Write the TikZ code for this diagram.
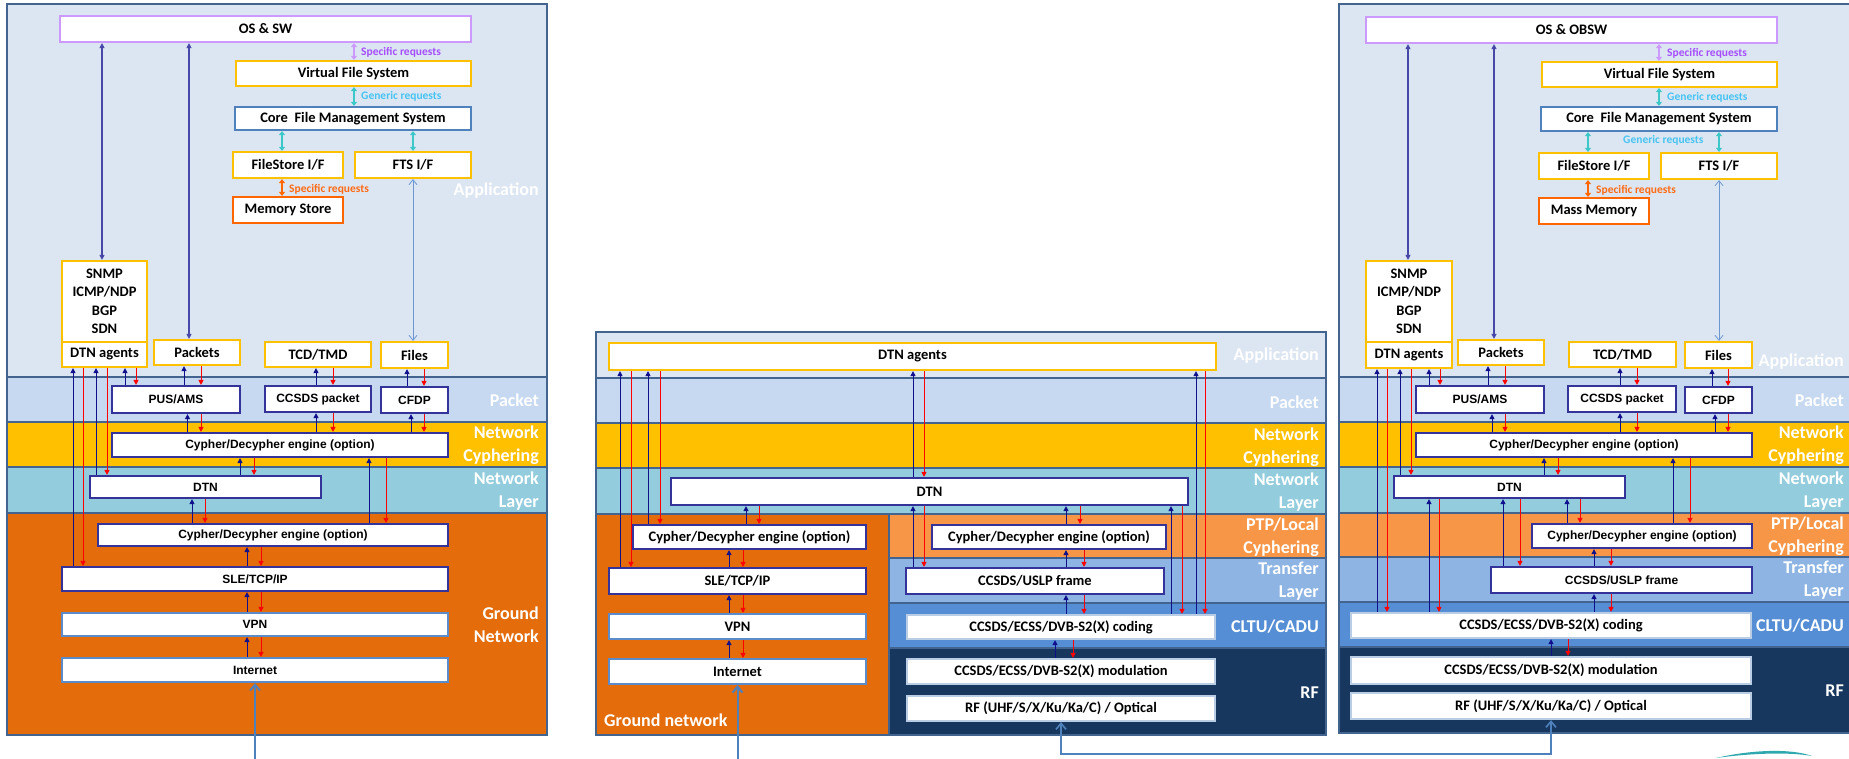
\documentclass[tikz,border=0pt]{standalone}
\usepackage{fontspec}
\setmainfont{Carlito}
\newfontfamily\arialf{Liberation Sans}
\usetikzlibrary{arrows.meta}

% layer fills
\definecolor{appbg}{HTML}{DCE6F2}
\definecolor{pktbg}{HTML}{C6D9F1}
\definecolor{ncbg}{HTML}{FFC000}
\definecolor{nlbg}{HTML}{93CDDD}
\definecolor{gnbg}{HTML}{E46C0A}
\definecolor{ptpbg}{HTML}{F79646}
\definecolor{tlbg}{HTML}{8EB4E3}
\definecolor{cltubg}{HTML}{558ED5}
\definecolor{rfbg}{HTML}{17375E}
\definecolor{bandline}{HTML}{42648E}
% box borders
\definecolor{yelb}{HTML}{FFC000}
\definecolor{purb}{HTML}{CC99FF}
\definecolor{blub}{HTML}{4F81BD}
\definecolor{orab}{HTML}{FF6600}
\definecolor{navb}{HTML}{333399}
\definecolor{ligb}{HTML}{5B8BC9}
\definecolor{codb}{HTML}{B9CDE5}
% connectors and request labels
\definecolor{arrnavy}{HTML}{10108C}
\definecolor{arrred}{HTML}{FF0000}
\definecolor{osc}{HTML}{4848A8}
\definecolor{ftsc}{HTML}{6D97D0}
\definecolor{inpc}{HTML}{4F81BD}
\definecolor{purpa}{HTML}{CC99FF}
\definecolor{purpt}{HTML}{A64DFF}
\definecolor{cyana}{HTML}{3CC8C8}
\definecolor{cyant}{HTML}{45C4F2}
\definecolor{orat}{HTML}{FF6A13}
\definecolor{swoosh}{HTML}{2FA8AE}

\newcommand\fcal{\bfseries\fontsize{14.5}{18.5}\selectfont}
\newcommand\fari{\arialf\bfseries\fontsize{12}{14}\selectfont}
\newcommand\fband{\bfseries\fontsize{18}{23}\selectfont}
\newcommand\freq{\bfseries\fontsize{11.5}{13}\selectfont}

% box from corner (x1,y1) to corner (x2,y2)
\newcommand\bx[7]{%
  \pgfmathsetmacro\bxcx{(#3+#5)/2}%
  \pgfmathsetmacro\bxcy{(#4+#6)/2}%
  \pgfmathsetmacro\bxw{#5-#3}%
  \pgfmathsetmacro\bxh{#6-#4}%
  \node[#1,minimum width=\bxw pt,minimum height=\bxh pt] (#2) at (\bxcx,\bxcy) {#7};}
% vertical data-flow connectors in column x
\newcommand\up[3]{\draw[uparr] (#1,0 |- #2) -- (#1,0 |- #3);}
\newcommand\dn[3]{\draw[dnarr] (#1,0 |- #2) -- (#1,0 |- #3);}

\tikzset{
  box/.style={draw, fill=white, inner sep=0pt, line width=2.2pt, text=black},
  ybox/.style={box, draw=yelb, font=\fcal},
  pbox/.style={box, draw=purb, font=\fcal},
  bbox/.style={box, draw=blub, font=\fcal},
  obox/.style={box, draw=orab, font=\fcal},
  nbox/.style={box, draw=navb, font=\fari},
  lbox/.style={box, draw=ligb, font=\fari},
  mnbox/.style={box, draw=navb, font=\fcal},
  mlbox/.style={box, draw=ligb, font=\fcal},
  cbox/.style={box, draw=codb, font=\fcal},
  sep/.style={draw=bandline, line width=1.6pt},
  lbl/.style={anchor=east, align=right, text=white, font=\fband, inner sep=0pt},
  reqlbl/.style={anchor=west, font=\freq, inner sep=0pt},
  uparr/.style={draw=arrnavy, line width=1pt, -{Triangle[length=5pt,width=5pt]}},
  dnarr/.style={draw=arrred, line width=1pt, -{Triangle[length=5pt,width=5pt]}},
  osarr/.style={draw=osc, line width=1.1pt, {Triangle[length=5pt,width=5pt]}-{Triangle[length=5pt,width=5pt]}},
  reqp/.style={draw=purpa, line width=1.6pt, {Triangle[length=4pt,width=6pt]}-{Triangle[length=4pt,width=6pt]}},
  reqc/.style={draw=cyana, line width=1.6pt, {Triangle[length=4pt,width=6pt]}-{Triangle[length=4pt,width=6pt]}},
  reqo/.style={draw=orab, line width=1.6pt, {Triangle[length=4pt,width=6pt]}-{Triangle[length=4pt,width=6pt]}},
  ftsline/.style={draw=ftsc, line width=0.8pt, {Straight Barb[length=5pt,width=8pt]}-{Straight Barb[length=5pt,width=8pt]}},
  inarr/.style={draw=inpc, line width=2pt, -{Straight Barb[length=6pt,width=10pt]}},
  rflink/.style={draw=inpc, line width=1.6pt, {Straight Barb[length=6pt,width=10pt]}-{Straight Barb[length=6pt,width=10pt]}},
}

\begin{document}
\begin{tikzpicture}[x=1pt,y=-1pt]
\useasboundingbox (0,0) rectangle (1849,758);
\clip (0,0) rectangle (1849,758);
\fill[white] (0,0) rectangle (1849,758);

% ---------------- layer bands ----------------
% ground segment stack
\fill[appbg] (7,4) rectangle (547,377);
\fill[pktbg] (7,377) rectangle (547,422);
\fill[ncbg] (7,422) rectangle (547,467);
\fill[nlbg] (7,467) rectangle (547,513);
\fill[gnbg] (7,513) rectangle (547,735);
\draw[sep] (7,377) -- (547,377) (7,422) -- (547,422) (7,467) -- (547,467) (7,513) -- (547,513);
\draw[sep] (7,4) rectangle (547,735);
% relay stack
\fill[appbg] (596,332) rectangle (1326,378);
\fill[pktbg] (596,378) rectangle (1326,423);
\fill[ncbg] (596,423) rectangle (1326,468);
\fill[nlbg] (596,468) rectangle (1326,514);
\fill[gnbg] (596,514) rectangle (889,735);
\fill[ptpbg] (889,514) rectangle (1326,558);
\fill[tlbg] (889,558) rectangle (1326,603);
\fill[cltubg] (889,603) rectangle (1326,648);
\fill[rfbg] (889,648) rectangle (1326,735);
\draw[sep] (596,378) -- (1326,378) (596,423) -- (1326,423) (596,468) -- (1326,468)
  (596,514) -- (1326,514) (889,558) -- (1326,558) (889,603) -- (1326,603) (889,648) -- (1326,648)
  (889,514) -- (889,735);
\draw[sep] (596,332) rectangle (1326,735);
% space segment stack
\fill[appbg] (1339,4) rectangle (1880,377);
\fill[pktbg] (1339,377) rectangle (1880,422);
\fill[ncbg] (1339,422) rectangle (1880,467);
\fill[nlbg] (1339,467) rectangle (1880,513);
\fill[ptpbg] (1339,513) rectangle (1880,557);
\fill[tlbg] (1339,557) rectangle (1880,602);
\fill[cltubg] (1339,602) rectangle (1880,647);
\fill[rfbg] (1339,647) rectangle (1880,733);
\draw[sep] (1339,377) -- (1880,377) (1339,422) -- (1880,422) (1339,467) -- (1880,467)
  (1339,513) -- (1880,513) (1339,557) -- (1880,557) (1339,602) -- (1880,602) (1339,647) -- (1880,647);
\draw[sep] (1339,4) rectangle (1880,733);

% ---------------- ground segment boxes ----------------
\bx{pbox}{osL}{60}{16}{471}{42}{OS \& SW}
\bx{ybox}{vfsL}{236}{61}{471}{86}{Virtual File System}
\bx{bbox}{cfmL}{235}{107}{471}{130}{Core\ \ File Management System}
\bx{ybox}{fsL}{233}{152}{343}{178}{FileStore I/F}
\bx{ybox}{ftsL}{355}{152}{471}{178}{FTS I/F}
\bx{obox}{memL}{233}{197}{343}{223}{Memory Store}
\bx{ybox,align=center}{snmpL}{62}{261}{147}{342}{SNMP\\ICMP/NDP\\BGP\\SDN}
\bx{ybox}{dtnaL}{62}{342}{147}{367}{DTN agents}
\bx{ybox}{pktsL}{154}{340}{240}{365}{Packets}
\bx{ybox}{tcdL}{265}{342}{371}{367}{TCD/TMD}
\bx{ybox}{filesL}{381}{342}{448}{368}{Files}
\bx{nbox}{pusL}{112}{386}{240}{413}{PUS/AMS}
\bx{nbox}{ccsL}{265}{386}{371}{412}{CCSDS packet}
\bx{nbox}{cfdpL}{381}{387}{448}{413}{CFDP}
\bx{nbox}{cy1L}{112}{433}{448}{457}{Cypher/Decypher engine (option)}
\bx{nbox}{dtnL}{90}{476}{321}{498}{DTN}
\bx{nbox}{cy2L}{98}{524}{448}{546}{Cypher/Decypher engine (option)}
\bx{nbox}{sleL}{62}{567}{448}{591}{SLE/TCP/IP}
\bx{lbox}{vpnL}{62}{613}{448}{636}{VPN}
\bx{lbox}{netL}{62}{658}{448}{682}{Internet}

% ---------------- relay boxes ----------------
\bx{ybox}{dtnaM}{609}{343}{1216}{370}{DTN agents}
\bx{mnbox}{dtnM}{671}{478}{1188}{505}{DTN}
\bx{mnbox}{cy2M}{633}{525}{866}{549}{Cypher/Decypher engine (option)}
\bx{mnbox}{sleM}{609}{568}{866}{594}{SLE/TCP/IP}
\bx{mlbox}{vpnM}{609}{614}{866}{639}{VPN}
\bx{mlbox}{netM}{609}{659}{866}{684}{Internet}
\bx{mnbox}{cyPM}{932}{525}{1166}{549}{Cypher/Decypher engine (option)}
\bx{mnbox}{uslpM}{906}{568}{1164}{594}{CCSDS/USLP frame}
\bx{cbox}{codM}{907}{615}{1215}{639}{CCSDS/ECSS/DVB-S2(X) coding}
\bx{cbox}{modM}{907}{659}{1215}{684}{CCSDS/ECSS/DVB-S2(X) modulation}
\bx{cbox}{rfM}{907}{696}{1215}{721}{RF (UHF/S/X/Ku/Ka/C) / Optical}

% ---------------- space segment boxes ----------------
\bx{pbox}{osR}{1366}{17}{1777}{43}{OS \& OBSW}
\bx{ybox}{vfsR}{1542}{62}{1777}{87}{Virtual File System}
\bx{bbox}{cfmR}{1541}{107}{1777}{131}{Core\ \ File Management System}
\bx{ybox}{fsR}{1539}{153}{1649}{179}{FileStore I/F}
\bx{ybox}{ftsR}{1661}{153}{1777}{179}{FTS I/F}
\bx{obox}{memR}{1539}{198}{1649}{224}{Mass Memory}
\bx{ybox,align=center}{snmpR}{1366}{261}{1452}{342}{SNMP\\ICMP/NDP\\BGP\\SDN}
\bx{ybox}{dtnaR}{1366}{342}{1452}{368}{DTN agents}
\bx{ybox}{pktsR}{1458}{340}{1544}{365}{Packets}
\bx{ybox}{tcdR}{1569}{342}{1676}{367}{TCD/TMD}
\bx{ybox}{filesR}{1685}{342}{1752}{368}{Files}
\bx{nbox}{pusR}{1416}{386}{1544}{413}{PUS/AMS}
\bx{nbox}{ccsR}{1568}{386}{1676}{412}{CCSDS packet}
\bx{nbox}{cfdpR}{1685}{387}{1752}{413}{CFDP}
\bx{nbox}{cy1R}{1416}{433}{1752}{457}{Cypher/Decypher engine (option)}
\bx{nbox}{dtnR}{1394}{476}{1625}{498}{DTN}
\bx{nbox}{cy2R}{1532}{524}{1752}{548}{Cypher/Decypher engine (option)}
\bx{nbox}{uslpR}{1491}{567}{1752}{593}{CCSDS/USLP frame}
\bx{cbox}{codR}{1351}{613}{1751}{638}{CCSDS/ECSS/DVB-S2(X) coding}
\bx{cbox}{modR}{1351}{657}{1751}{684}{CCSDS/ECSS/DVB-S2(X) modulation}
\bx{cbox}{rfR}{1351}{693}{1751}{719}{RF (UHF/S/X/Ku/Ka/C) / Optical}

% ---------------- file system requests ----------------
\draw[reqp] (354,0 |- osL.south) -- (354,0 |- vfsL.north);
\draw[reqc] (354,0 |- vfsL.south) -- (354,0 |- cfmL.north);
\draw[reqc] (282,0 |- cfmL.south) -- (282,0 |- fsL.north);
\draw[reqc] (413,0 |- cfmL.south) -- (413,0 |- ftsL.north);
\draw[reqo] (282,0 |- fsL.south) -- (282,0 |- memL.north);
\draw[ftsline] (413,0 |- ftsL.south) -- (413,0 |- filesL.north);
\draw[osarr] (102,0 |- osL.south) -- (102,0 |- snmpL.north);
\draw[osarr] (189,0 |- osL.south) -- (189,0 |- pktsL.north);
\node[reqlbl, text=purpt] at (361,52) {Specific requests};
\node[reqlbl, text=cyant] at (361,96) {Generic requests};
\node[reqlbl, text=orat] at (289,189) {Specific requests};

\draw[reqp] (1659,0 |- osR.south) -- (1659,0 |- vfsR.north);
\draw[reqc] (1659,0 |- vfsR.south) -- (1659,0 |- cfmR.north);
\draw[reqc] (1588,0 |- cfmR.south) -- (1588,0 |- fsR.north);
\draw[reqc] (1719,0 |- cfmR.south) -- (1719,0 |- ftsR.north);
\draw[reqo] (1588,0 |- fsR.south) -- (1588,0 |- memR.north);
\draw[ftsline] (1719,0 |- ftsR.south) -- (1719,0 |- filesR.north);
\draw[osarr] (1408,0 |- osR.south) -- (1408,0 |- snmpR.north);
\draw[osarr] (1494,0 |- osR.south) -- (1494,0 |- pktsR.north);
\node[reqlbl, text=purpt] at (1667,53) {Specific requests};
\node[reqlbl, text=cyant] at (1667,97) {Generic requests};
\node[reqlbl, text=cyant] at (1623,140) {Generic requests};
\node[reqlbl, text=orat] at (1596,190) {Specific requests};

% ---------------- ground segment data flow ----------------
\up{73}{sleL.north}{dtnaL.south}   \dn{83}{dtnaL.south}{sleL.north}
\up{96}{dtnL.north}{dtnaL.south}   \dn{107}{dtnaL.south}{dtnL.north}
\up{125}{pusL.north}{dtnaL.south}  \dn{136}{dtnaL.south}{pusL.north}
\up{184}{pusL.north}{pktsL.south}  \dn{201}{pktsL.south}{pusL.north}
\up{316}{ccsL.north}{tcdL.south}   \dn{333}{tcdL.south}{ccsL.north}
\up{407}{cfdpL.north}{filesL.south} \dn{424}{filesL.south}{cfdpL.north}
\up{187.5}{cy1L.north}{pusL.south} \dn{201}{pusL.south}{cy1L.north}
\up{316}{cy1L.north}{ccsL.south}   \dn{333}{ccsL.south}{cy1L.north}
\up{411}{cy1L.north}{cfdpL.south}  \dn{424}{cfdpL.south}{cy1L.north}
\up{240}{dtnL.north}{cy1L.south}   \dn{254}{cy1L.south}{dtnL.north}
\up{192}{cy2L.north}{dtnL.south}   \dn{205}{dtnL.south}{cy2L.north}
\up{369}{cy2L.north}{cy1L.south}   \dn{386}{cy1L.south}{cy2L.north}
\up{247}{sleL.north}{cy2L.south}   \dn{261}{cy2L.south}{sleL.north}
\up{247}{vpnL.north}{sleL.south}   \dn{261}{sleL.south}{vpnL.north}
\up{247}{netL.north}{vpnL.south}   \dn{261}{vpnL.south}{netL.north}

% ---------------- relay data flow ----------------
\up{620}{sleM.north}{dtnaM.south}  \dn{631}{dtnaM.south}{sleM.north}
\up{648}{cy2M.north}{dtnaM.south}  \dn{660}{dtnaM.south}{cy2M.north}
\up{913}{dtnM.north}{dtnaM.south}  \dn{924}{dtnaM.south}{dtnM.north}
\up{1196}{codM.north}{dtnaM.south} \dn{1205}{dtnaM.south}{codM.north}
\up{746}{cy2M.north}{dtnM.south}   \dn{759}{dtnM.south}{cy2M.north}
\up{729}{sleM.north}{cy2M.south}   \dn{743}{cy2M.south}{sleM.north}
\up{729}{vpnM.north}{sleM.south}   \dn{743}{sleM.south}{vpnM.north}
\up{729}{netM.north}{vpnM.south}   \dn{743}{vpnM.south}{netM.north}
\up{913}{uslpM.north}{dtnM.south}  \dn{924}{dtnM.south}{uslpM.north}
\up{1066}{cyPM.north}{dtnM.south}  \dn{1080}{dtnM.south}{cyPM.north}
\up{1066}{uslpM.north}{cyPM.south} \dn{1084}{cyPM.south}{uslpM.north}
\up{1066}{codM.north}{uslpM.south} \dn{1084}{uslpM.south}{codM.north}
\up{1055}{modM.north}{codM.south}  \dn{1073}{codM.south}{modM.north}
\up{1171}{codM.north}{dtnM.south}  \dn{1182}{dtnM.south}{codM.north}

% ---------------- space segment data flow ----------------
\up{1377}{codR.north}{dtnaR.south}  \dn{1387}{dtnaR.south}{codR.north}
\up{1400}{dtnR.north}{dtnaR.south}  \dn{1411}{dtnaR.south}{dtnR.north}
\up{1429}{pusR.north}{dtnaR.south}  \dn{1440}{dtnaR.south}{pusR.north}
\up{1488}{pusR.north}{pktsR.south}  \dn{1505}{pktsR.south}{pusR.north}
\up{1620}{ccsR.north}{tcdR.south}   \dn{1637}{tcdR.south}{ccsR.north}
\up{1712}{cfdpR.north}{filesR.south} \dn{1728}{filesR.south}{cfdpR.north}
\up{1492}{cy1R.north}{pusR.south}   \dn{1505}{pusR.south}{cy1R.north}
\up{1620}{cy1R.north}{ccsR.south}   \dn{1637}{ccsR.south}{cy1R.north}
\up{1715}{cy1R.north}{cfdpR.south}  \dn{1728}{cfdpR.south}{cy1R.north}
\up{1544}{dtnR.north}{cy1R.south}   \dn{1558}{cy1R.south}{dtnR.north}
\up{1429}{codR.north}{dtnR.south}   \dn{1439}{dtnR.south}{codR.north}
\up{1503}{uslpR.north}{dtnR.south}  \dn{1520}{dtnR.south}{uslpR.north}
\up{1567}{cy2R.north}{dtnR.south}   \dn{1580}{dtnR.south}{cy2R.north}
\up{1673}{cy2R.north}{cy1R.south}   \dn{1690}{cy1R.south}{cy2R.north}
\up{1594}{uslpR.north}{cy2R.south}  \dn{1611}{cy2R.south}{uslpR.north}
\up{1594}{codR.north}{uslpR.south}  \dn{1611}{uslpR.south}{codR.north}
\up{1551}{modR.north}{codR.south}   \dn{1568}{codR.south}{modR.north}

% ---------------- external links ----------------
\coordinate (inL) at (255,760);
\coordinate (inM) at (737.5,760);
\draw[inarr] (inL) -- (netL.south);
\draw[inarr] (inM) -- (netM.south);
\coordinate (lkM) at (1061,754);
\coordinate (lkR) at (1551,754);
\draw[rflink] (rfM.south) -- (lkM) -- (lkR) -- (rfR.south);

% ---------------- layer names ----------------
\node[lbl] at (539,191) {Application};
\node[lbl] at (539,400) {Packet};
\node[lbl] at (539,445.5) {Network\\Cyphering};
\node[lbl] at (539,491) {Network\\Layer};
\node[lbl] at (539,624.5) {Ground\\Network};

\node[lbl] at (1319,356) {Application};
\node[lbl] at (1319,402) {Packet};
\node[lbl] at (1319,447) {Network\\Cyphering};
\node[lbl] at (1319,492.5) {Network\\Layer};
\node[lbl] at (1319,537) {PTP/Local\\Cyphering};
\node[lbl] at (1319,581.5) {Transfer\\Layer};
\node[lbl] at (1319,627) {CLTU/CADU};
\node[lbl] at (1319,693) {RF};
\node[lbl, anchor=west] at (604,720) {Ground network};

\node[lbl] at (1844,362) {Application};
\node[lbl] at (1844,400) {Packet};
\node[lbl] at (1844,445.5) {Network\\Cyphering};
\node[lbl] at (1844,491) {Network\\Layer};
\node[lbl] at (1844,536.5) {PTP/Local\\Cyphering};
\node[lbl] at (1844,580.5) {Transfer\\Layer};
\node[lbl] at (1844,626) {CLTU/CADU};
\node[lbl] at (1844,691) {RF};

% logo swoosh in the corner
\fill[swoosh] (1716,758) .. controls (1750,750) and (1790,748) .. (1812,756)
  .. controls (1790,752) and (1752,753) .. (1716,758) -- cycle;
\end{tikzpicture}
\end{document}
